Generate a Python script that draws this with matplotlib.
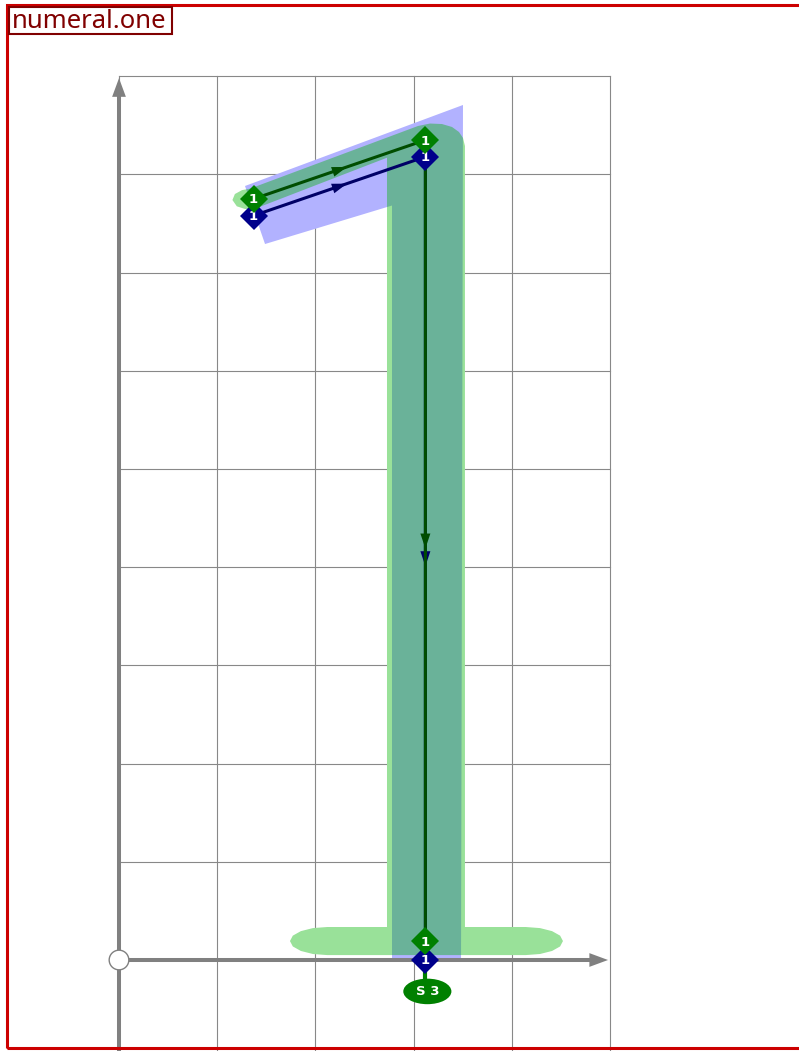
import numpy as np
import matplotlib
matplotlib.use("Agg")
import matplotlib.pyplot as plt
from matplotlib.patches import Polygon, Ellipse, Circle, Rectangle

# ---------------- data (glyph units, 1 grid cell = 100) ----------------
grid_x = [0, 100, 200, 300, 400, 500]
grid_y = [100, 200, 300, 400, 500, 600, 700, 800, 900]

# on-curve path points (green = outline skeleton, navy = second layer)
green_path_x = [137, 312, 312]
green_path_y = [775, 835, 19]
navy_path_x = [137, 312, 312]
navy_path_y = [758, 818, 0]
point_labels = ["1", "1", "1"]

# filled areas
blue_outline_x = [128.3, 350.3, 348.3, 278.0, 278.0, 148.7]
blue_outline_y = [788.2, 870.7, 0.0, 0.0, 768.3, 729.1]

green_outline_x = [133.4, 304.5, 316.7, 328.9, 339.1, 346.2, 350.3, 352.3, 352.3,
                   414.1, 428.7, 441.0, 449.2, 452.1, 449.2, 441.0, 428.7, 414.1,
                   212.1, 197.5, 185.2, 177.0, 174.1, 177.0, 185.2, 197.5, 212.1,
                   272.9, 272.9, 137.0, 128.3, 120.0, 115.5, 118.0, 125.3]
green_outline_y = [785.5, 849.3, 851.8, 851.3, 848.3, 843.2, 837.1, 828.9, 33.6,
                   33.6, 32.5, 29.4, 24.8, 19.3, 13.8, 9.2, 6.1, 5.0,
                   5.0, 6.1, 9.2, 13.8, 19.3, 24.8, 29.4, 32.5, 33.6,
                   33.6, 817.0, 764.5, 764.8, 767.5, 773.9, 780.0, 784.0]

stroke_label = "S 3"
title = "numeral.one"

# ---------------- figure ----------------
W, H = 799, 1051
S = 0.982          # pixels per glyph unit
X0, Y0 = 119, 960  # pixel position of the origin

fig = plt.figure(figsize=(W / 100, H / 100), dpi=100)
ax = fig.add_axes([0, 0, 1, 1])
ax.set_xlim(-X0 / S, (W - X0) / S)
ax.set_ylim(-(H - Y0) / S, Y0 / S)
ax.axis("off")
ymin = -(H - Y0) / S

# grid
for gx in grid_x:
    ax.plot([gx, gx], [ymin, grid_y[-1]], color="#888888", lw=0.8, zorder=1)
for gy in grid_y:
    ax.plot([grid_x[0], grid_x[-1]], [gy, gy], color="#888888", lw=0.8, zorder=1)

# filled shapes: white underlay, then translucent colours
blue_xy = np.column_stack([blue_outline_x, blue_outline_y])
green_xy = np.column_stack([green_outline_x, green_outline_y])
for xy in (blue_xy, green_xy):
    ax.add_patch(Polygon(xy, closed=True, facecolor="white", edgecolor="none", zorder=2))
ax.add_patch(Polygon(blue_xy, closed=True, facecolor="#0000ff", alpha=0.30,
                     edgecolor="none", zorder=3))
ax.add_patch(Polygon(green_xy, closed=True, facecolor="#00b400", alpha=0.40,
                     edgecolor="none", zorder=4))

# axes arrows
axis_col = "#808080"
ax.arrow(0, ymin, 0, 898 - ymin, width=4.1, head_width=14, head_length=19,
         length_includes_head=True, color=axis_col, zorder=5, lw=0)
ax.arrow(0, 0, 498, 0, width=4.1, head_width=14, head_length=19,
         length_includes_head=True, color=axis_col, zorder=5, lw=0)
ax.add_patch(Circle((0, 0), 10, facecolor="white", edgecolor=axis_col, lw=1, zorder=6))


def draw_path(xs, ys, line_col, z):
    ax.plot(xs, ys, color=line_col, lw=2.2, zorder=z, solid_capstyle="butt")
    for i in range(len(xs) - 1):
        x1, y1, x2, y2 = xs[i], ys[i], xs[i + 1], ys[i + 1]
        mx, my = (x1 + x2) / 2, (y1 + y2) / 2
        d = np.hypot(x2 - x1, y2 - y1)
        ux, uy = (x2 - x1) / d, (y2 - y1) / d
        ax.annotate("", xy=(mx + 8 * ux, my + 8 * uy), xytext=(mx - 6 * ux, my - 6 * uy),
                    arrowprops=dict(arrowstyle="-|>,head_length=0.9,head_width=0.3",
                                    color=line_col, lw=0, shrinkA=0, shrinkB=0,
                                    mutation_scale=12),
                    zorder=z + 0.1)


# navy first, green on top
draw_path(navy_path_x, navy_path_y, "#000066", 7)
draw_path(green_path_x, green_path_y, "#004d00", 8)

# connector + stroke label ellipse
ax.plot([navy_path_x[-1], navy_path_x[-1]], [navy_path_y[-1], -24], color="#008000",
        lw=3, zorder=8.5)
ax.add_patch(Ellipse((navy_path_x[-1] + 2, -32), 49, 26, facecolor="#008000",
                     edgecolor="none", zorder=9))
ax.text(navy_path_x[-1] + 2, -32.5, stroke_label, color="white", fontsize=9.5,
        fontweight="bold", ha="center", va="center", zorder=10, family="DejaVu Sans")

# point markers
for xs, ys, col, z in ((navy_path_x, navy_path_y, "#00008b", 11),
                       (green_path_x, green_path_y, "#008000", 12)):
    ax.plot(xs, ys, linestyle="none", marker="D", ms=14, color=col,
            markeredgewidth=0, zorder=z)
    for x, y, lab in zip(xs, ys, point_labels):
        ax.text(x, y - 1, lab, color="white", fontsize=9.5, fontweight="bold",
                ha="center", va="center", zorder=z + 0.5, family="DejaVu Sans")

# outer red frame (pixel based)
fig.add_artist(Rectangle((7 / W, 1 - 1048 / H), 1.2, (1048 - 5) / H,
                         transform=fig.transFigure, fill=False,
                         edgecolor="#cc0000", lw=2.2, zorder=20))
# title box
fig.add_artist(Rectangle((9 / W, 1 - 34 / H), (172 - 9) / W, (34 - 7) / H,
                         transform=fig.transFigure, facecolor="white",
                         edgecolor="#800000", lw=1.5, zorder=21))
fig.text(12 / W, 1 - 21 / H, title, color="#800000", fontsize=18.5,
         family="Noto Sans", ha="left", va="center", zorder=22)

fig.savefig("out.png", dpi=100)
